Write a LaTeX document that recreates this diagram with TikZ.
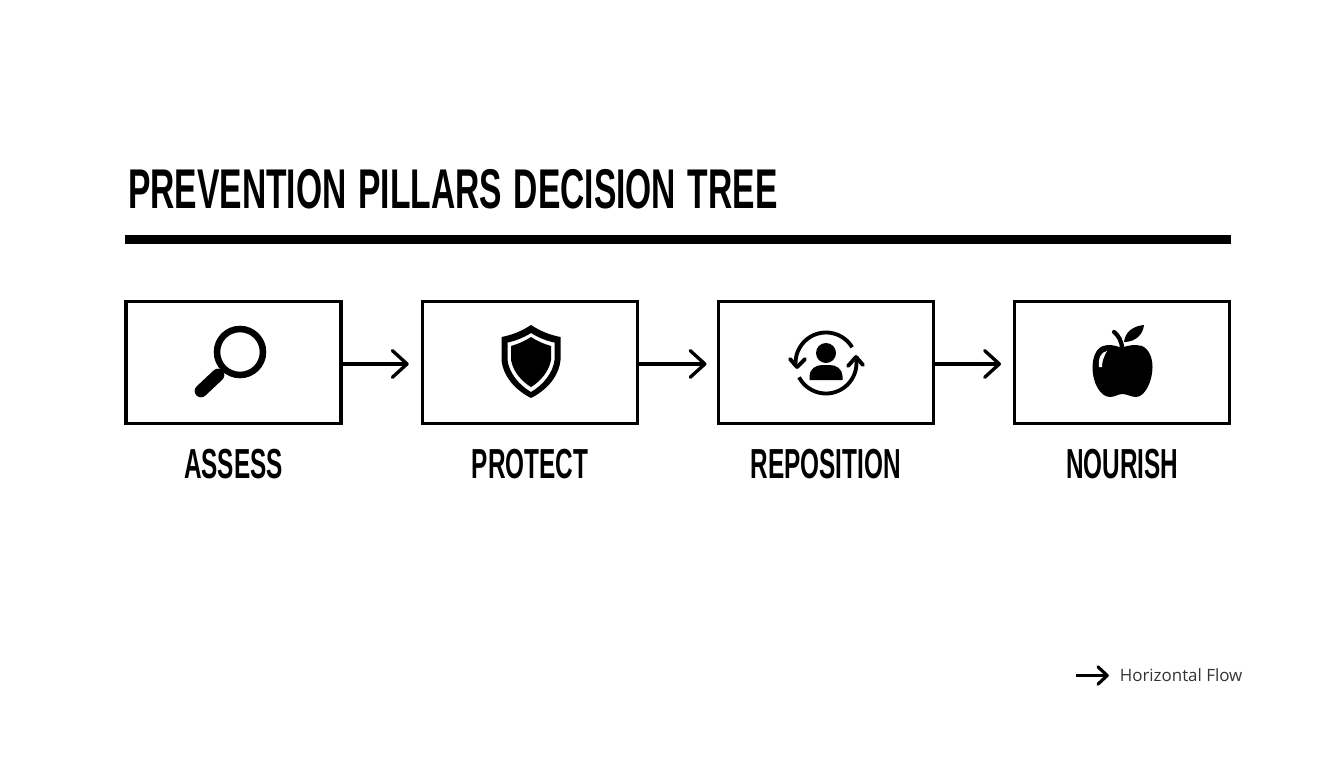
\documentclass[tikz,border=0pt]{standalone}
\usepackage{fontspec}
\setmainfont{Open Sans}
\newfontfamily\headfont[FakeStretch=0.6,WordSpace=1.25]{Liberation Sans Bold}
\newfontfamily\namefont[FakeStretch=0.58]{Liberation Sans Bold}
\usetikzlibrary{arrows.meta,positioning}

\tikzset{
  pillar/.style={draw,line width=2.6pt,minimum width=215pt*0.75,minimum height=122pt*0.75},
  pillarname/.style={font=\namefont\fontsize{31.5}{36}\selectfont,inner sep=0pt,anchor=north},
  flow/.style={line width=2.5pt,-{Straight Barb[length=11pt,width=20pt,line width=2.5pt,round]}}
}

\begin{document}
\begin{tikzpicture}[x=0.75pt,y=-0.75pt]
\useasboundingbox (0,0) rectangle (1344,768);

 \node[font=\headfont\fontsize{42}{48}\selectfont,inner sep=0pt,anchor=base west] (title) at (128,208) {PREVENTION PILLARS DECISION TREE};
 \fill (125,235) rectangle (1231,244);

 \node[pillar] (assess) at (233.5,362.5) {};
 \node[pillar,right=58.5pt of assess] (protect) {};
 \node[pillar,right=58pt of protect] (reposition) {};
 \node[pillar,right=58.5pt of reposition] (nourish) {};

 \node[pillarname,below=17.5pt of assess] (assessname) {ASSESS};
 \node[pillarname,below=17.5pt of protect] (protectname) {PROTECT};
 \node[pillarname,below=17.5pt of reposition] (repositionname) {REPOSITION};
 \node[pillarname,below=17.5pt of nourish] (nourishname) {NOURISH};

 \draw[flow,shorten >=9pt] ([yshift=-1.1pt]assess.east) -- ([yshift=-1.1pt]protect.west);
 \draw[flow,shorten >=7.5pt] ([yshift=-1.1pt]protect.east) -- ([yshift=-1.1pt]reposition.west);
 \draw[flow,shorten >=9pt] ([yshift=-1.1pt]reposition.east) -- ([yshift=-1.1pt]nourish.west);

 % magnifier
 \draw[line width=4.9pt] (240,352) circle (23);
 \draw[line width=2.5pt] (226,367) -- (215,378);
 \draw[line width=9.5pt,line cap=round] (218,375) -- (201,391);

 % shield
 \fill[even odd rule] (531,325) .. controls (522,331) and (512,335) .. (501.5,337) -- (501.5,360)
   .. controls (503,376) and (515,390) .. (531,398) .. controls (547,390) and (559,376) .. (560.5,360)
   -- (560.5,337) .. controls (550,335) and (540,331) .. (531,325) -- cycle
   (531,333) .. controls (523,338) and (515,341) .. (507.5,342.5) -- (507.5,360)
   .. controls (509,373) and (519,385) .. (531,392) .. controls (543,385) and (553,373) .. (554.5,360)
   -- (554.5,342.5) .. controls (547,341) and (539,338) .. (531,333) -- cycle;
 \fill (531,337) .. controls (525,341) and (518,344) .. (511,346) -- (511,360)
   .. controls (513,371) and (521,381) .. (531,387) .. controls (541,381) and (549,371) .. (551,360)
   -- (551,346) .. controls (544,344) and (537,341) .. (531,337) -- cycle;

 % person in a cycle
 \fill (826,353) circle (10);
 \fill (809.5,380) -- (809.5,376) .. controls (809.5,369) and (816,365) .. (822,365) -- (830,365)
   .. controls (836,365) and (842.5,369) .. (842.5,376) -- (842.5,380) -- cycle;
 \draw[line width=2.9pt] (826,363) ++(-31:30.5) arc (-31:-180:30.5) -- ++(0,3);
 \draw[line width=2.9pt] (826,363) ++(152:30.5) arc (152:0:30.5) -- ++(0,-7);
 \draw[line width=2.9pt,line cap=round,line join=round] (790,359) -- (797,367) -- (805,359);
 \draw[line width=2.9pt,line cap=round,line join=round] (848,366) -- (856,357) -- (863,365);

 % apple
 \fill (1121.5,348) .. controls (1114,344.5) and (1108,344.5) .. (1103,346)
   .. controls (1095,349) and (1092.5,359) .. (1092.5,368)
   .. controls (1092.5,382) and (1100,397) .. (1110,397)
   .. controls (1115,397) and (1118,394) .. (1122.5,394)
   .. controls (1127,394) and (1131,397) .. (1136,397)
   .. controls (1145,397) and (1152.5,381) .. (1152.5,367)
   .. controls (1152.5,358) and (1149,349) .. (1142,346)
   .. controls (1136,344.5) and (1129,344.5) .. (1121.5,348) -- cycle;
 \draw[line width=3.2pt,line cap=round] (1122,349) .. controls (1122,341) and (1118,335) .. (1114,332);
 \fill (1124,342) .. controls (1125,332) and (1133,326) .. (1144,325)
   .. controls (1143,335) and (1135,342) .. (1124,342) -- cycle;
 \fill[white] (1099,367) .. controls (1098,358) and (1101,352) .. (1107,351)
   .. controls (1104,356) and (1102,361) .. (1102,367) -- cycle;

 % legend
 \node[font=\fontsize{12.7}{15}\selectfont,text=black!80,inner sep=0pt,anchor=west] (legend) at (1119.5,675.5) {Horizontal Flow};
 \coordinate (legendstart) at (1076,675.5);
 \draw[line width=2.4pt,-{Straight Barb[length=7pt,width=13pt,line width=2.4pt,round]},shorten >=8pt] (legendstart) -- (legend.west);
\end{tikzpicture}
\end{document}
